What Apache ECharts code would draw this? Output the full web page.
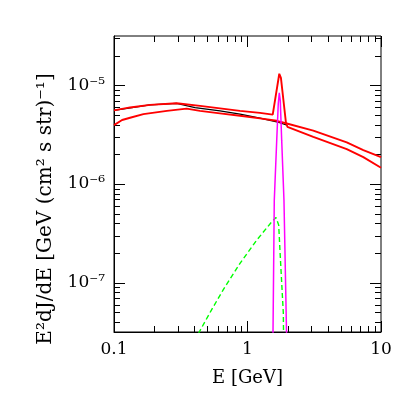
<!DOCTYPE html>
<html>
<head>
<meta charset="utf-8">
<script src="https://cdn.jsdelivr.net/npm/echarts@6/dist/echarts.min.js"></script>
<style>
  html, body { margin: 0; padding: 0; background: #fff; }
  #chart { width: 415px; height: 415px; }
</style>
</head>
<body>
<div id="chart"></div>
<script>
// axis ticks (log axes, decades + 2..9 minors)
const xTicks = [0.1, 1, 10]
const xMinorTicks = [0.2, 0.3, 0.4, 0.5, 0.6, 0.7, 0.8, 0.9, 2, 3, 4, 5, 6, 7, 8, 9]
const yTicks = [1e-7, 1e-6, 1e-5]
const yMinorTicks = [
  4e-8, 5e-8, 6e-8, 7e-8, 8e-8, 9e-8,
  2e-7, 3e-7, 4e-7, 5e-7, 6e-7, 7e-7, 8e-7, 9e-7,
  2e-6, 3e-6, 4e-6, 5e-6, 6e-6, 7e-6, 8e-6, 9e-6,
  2e-5, 3e-5,
]
const xMin = 0.1
const xMax = 10
const yMin = Math.pow(10, -7.5)
const yMax = Math.pow(10, -4.5)

// total with line (red, peaked)
const peakE = [0.1, 0.132, 0.186, 0.295, 0.441, 0.622, 0.879, 1.24, 1.545, 1.73, 1.78, 1.94, 1.99, 3.11, 5.54, 7.37, 10]
const peakFlux = [5.57e-6, 5.97e-6, 6.34e-6, 6.59e-6, 6.19e-6, 5.84e-6, 5.51e-6, 5.26e-6, 5.05e-6, 1.31e-5, 1.19e-5, 4.2e-6, 3.8e-6, 3.01e-6, 2.26e-6, 1.87e-6, 1.46e-6]

// second total (red, smooth)
const smoothE = [0.1, 0.115, 0.132, 0.166, 0.249, 0.35, 0.441, 0.622, 0.879, 1.24, 1.655, 1.97, 3.11, 5.54, 7.37, 10]
const smoothFlux = [3.95e-6, 4.45e-6, 4.69e-6, 5.11e-6, 5.51e-6, 5.81e-6, 5.51e-6, 5.2e-6, 4.91e-6, 4.63e-6, 4.37e-6, 4.1e-6, 3.47e-6, 2.64e-6, 2.21e-6, 1.87e-6]

// continuum (black)
const contE = [0.1, 0.186, 0.295, 0.405, 0.622, 0.879, 1.24, 1.655, 1.95]
const contFlux = [5.57e-6, 6.34e-6, 6.55e-6, 5.94e-6, 5.51e-6, 5.11e-6, 4.66e-6, 4.27e-6, 3.98e-6]

// line (magenta)
const lineE = [1.54, 1.553, 1.587, 1.655, 1.7, 1.73, 1.76, 1.804, 1.876, 1.96, 1.98]
const lineFlux = [1e-8, 3.2e-8, 6.8e-7, 2.75e-6, 6.5e-6, 8.4e-6, 7.0e-6, 2.75e-6, 6.8e-7, 3.2e-8, 1e-8]

// green dashed
const greenE = [0.4, 0.435, 0.539, 0.659, 0.879, 1.172, 1.518, 1.635, 1.713, 1.75, 1.804, 1.855, 1.865]
const greenFlux = [2.6e-8, 3.16e-8, 5.33e-8, 8.5e-8, 1.57e-7, 2.7e-7, 4.13e-7, 4.58e-7, 3.83e-7, 2.14e-7, 9.9e-8, 4.94e-8, 2.5e-8]

const FONT = '"DejaVu Serif", serif'
const MAJOR = 11
const MINOR = 6

const pairs = (xs, ys) => xs.map((x, i) => [x, ys[i]])

const SUP = { '-': '⁻', 0: '⁰', 1: '¹', 2: '²', 3: '³', 4: '⁴', 5: '⁵', 6: '⁶', 7: '⁷', 8: '⁸', 9: '⁹' }
const powerLabel = (v) => {
  const e = Math.log10(v)
  if (Math.abs(e - Math.round(e)) > 1e-6) return ''
  return '10' + String(Math.round(e)).split('').map((c) => SUP[c]).join('')
}

const crisp = (v) => Math.round(v) + 0.5

// ticks on all four sides of the frame, pointing inwards
function renderTicks(params, api) {
  const cs = params.coordSys
  const left = cs.x
  const right = cs.x + cs.width
  const top = cs.y
  const bottom = cs.y + cs.height
  const children = []
  const seg = (x1, y1, x2, y2) =>
    children.push({ type: 'line', shape: { x1, y1, x2, y2 }, style: { stroke: '#000', lineWidth: 1 } })
  const xTick = (v, len) => {
    const x = crisp(api.coord([v, yMin])[0])
    seg(x, bottom, x, bottom - len)
    seg(x, top, x, top + len)
  }
  const yTick = (v, len) => {
    const y = crisp(api.coord([xMin, v])[1])
    seg(left, y, left + len, y)
    seg(right, y, right - len, y)
  }
  xTicks.forEach((v) => xTick(v, MAJOR))
  xMinorTicks.forEach((v) => xTick(v, MINOR))
  yTicks.forEach((v) => yTick(v, MAJOR))
  yMinorTicks.forEach((v) => yTick(v, MINOR))
  return { type: 'group', children }
}

const chart = echarts.init(document.getElementById('chart'), null, { renderer: 'canvas' })

chart.setOption({
  animation: false,
  backgroundColor: '#fff',
  grid: {
    left: 114, top: 36, width: 267, height: 296,
    show: true, borderColor: '#000', borderWidth: 1, backgroundColor: 'transparent',
  },
  xAxis: {
    type: 'log',
    logBase: 10,
    min: xMin,
    max: xMax,
    axisLine: { show: true, onZero: false, lineStyle: { color: '#000', width: 1 } },
    axisTick: { show: false },
    splitLine: { show: false },
    axisLabel: {
      color: '#000', fontFamily: FONT, fontSize: 17, margin: 9,
      formatter: (v) => String(parseFloat(Number(v).toPrecision(3))),
    },
    name: 'E [GeV]',
    nameLocation: 'middle',
    nameGap: 37,
    nameTextStyle: { color: '#000', fontFamily: FONT, fontSize: 18 },
  },
  yAxis: {
    type: 'log',
    logBase: 10,
    min: yMin,
    max: yMax,
    axisLine: { show: true, onZero: false, lineStyle: { color: '#000', width: 1 } },
    axisTick: { show: false },
    splitLine: { show: false },
    axisLabel: {
      color: '#000', fontFamily: FONT, fontSize: 17, margin: 9,
      formatter: powerLabel,
    },
  },
  graphic: [
    {
      type: 'text',
      x: 46,
      y: 209,
      rotation: Math.PI / 2,
      style: {
        text: 'E²dJ/dE [GeV (cm² s str)⁻¹]',
        font: '20px ' + FONT,
        fill: '#000',
        align: 'center',
        verticalAlign: 'middle',
      },
    },
  ],
  series: [
    {
      type: 'custom',
      coordinateSystem: 'cartesian2d',
      renderItem: renderTicks,
      data: [[1, 1e-6]],
      silent: true,
      clip: false,
      z: 1,
    },
    {
      type: 'line', data: pairs(contE, contFlux), showSymbol: false, silent: true,
      lineStyle: { color: '#000', width: 1.2 }, z: 2,
    },
    {
      type: 'line', data: pairs(greenE, greenFlux), showSymbol: false, silent: true,
      lineStyle: { color: '#00ff00', width: 1.4, type: [5, 3] }, z: 3,
    },
    {
      type: 'line', data: pairs(smoothE, smoothFlux), showSymbol: false, silent: true,
      lineStyle: { color: '#ff0000', width: 1.9 }, z: 4,
    },
    {
      type: 'line', data: pairs(peakE, peakFlux), showSymbol: false, silent: true,
      lineStyle: { color: '#ff0000', width: 1.9 }, z: 4,
    },
    {
      type: 'line', data: pairs(lineE, lineFlux), showSymbol: false, silent: true,
      lineStyle: { color: '#ff00ff', width: 1.5 }, z: 5,
    },
  ],
})
</script>
</body>
</html>
